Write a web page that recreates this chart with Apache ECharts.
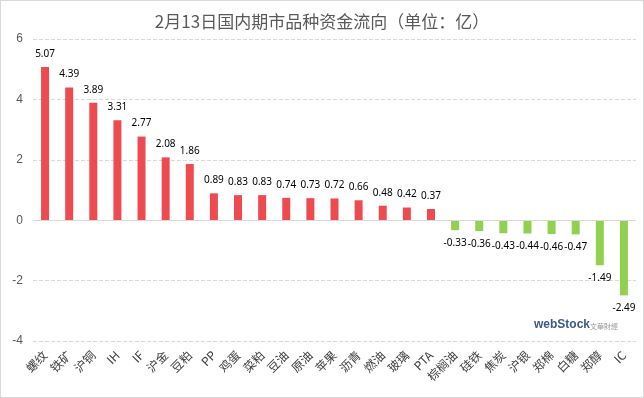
<!DOCTYPE html>
<html>
<head>
<meta charset="utf-8">
<script src="https://cdn.jsdelivr.net/npm/echarts@6/dist/echarts.min.js"></script>
<style>
  html, body { margin: 0; padding: 0; background: #fff; }
  #chart { width: 644px; height: 398px; box-sizing: border-box; border: 1px solid #d9d9d9; }
</style>
</head>
<body>
<div id="chart"></div>
<script>
  // 品种
  var categories = ['螺纹', '铁矿', '沪铜', 'IH', 'IF', '沪金', '豆粕', 'PP', '鸡蛋', '菜粕', '豆油', '原油', '苹果',
    '沥青', '燃油', '玻璃', 'PTA', '棕榈油', '硅铁', '焦炭', '沪银', '郑棉', '白糖', '郑醇', 'IC']
  // 资金流向（亿）
  var values = [5.07, 4.39, 3.89, 3.31, 2.77, 2.08, 1.86, 0.89, 0.83, 0.83, 0.74, 0.73, 0.72,
    0.66, 0.48, 0.42, 0.37, -0.33, -0.36, -0.43, -0.44, -0.46, -0.47, -1.49, -2.49]
  var yTicks = [-4, -2, 0, 2, 4, 6]

  var chart = echarts.init(document.getElementById('chart'))
  chart.setOption({
    animation: false,
    title: {
      text: '2月13日国内期市品种资金流向（单位：亿）',
      left: 'center',
      top: 7,
      textStyle: { fontSize: 17, fontWeight: 'normal', color: '#595959', fontFamily: 'Noto Sans CJK SC' }
    },
    grid: { left: 32, right: 7, top: 38, bottom: 56 },
    xAxis: {
      type: 'category',
      data: categories,
      axisLine: { show: false, onZero: false },
      axisTick: { show: false },
      axisLabel: {
        interval: 0,
        rotate: 45,
        margin: 12,
        fontSize: 12,
        color: '#404040',
        fontFamily: 'Noto Sans CJK SC'
      }
    },
    yAxis: {
      type: 'value',
      min: yTicks[0],
      max: yTicks[yTicks.length - 1],
      interval: 2,
      axisLine: { show: false },
      axisTick: { show: false },
      axisLabel: { color: '#595959', fontSize: 12, margin: 10 },
      splitLine: { lineStyle: { color: '#d9d9d9', type: 'dashed' } }
    },
    series: [
      {
        type: 'bar',
        barWidth: 8,
        data: values.map(function (v) {
          return {
            value: v,
            itemStyle: { color: v >= 0 ? '#ee4b50' : '#92d050' },
            label: { position: v >= 0 ? 'top' : 'bottom' }
          }
        }),
        label: {
          show: true,
          distance: 8,
          fontSize: 10,
          color: '#000',
          fontFamily: 'Noto Sans'
        },
        markLine: {
          silent: true,
          symbol: 'none',
          label: { show: false },
          lineStyle: { color: '#d9d9d9', type: 'solid', width: 1 },
          data: [{ yAxis: 0 }]
        }
      }
    ],
    graphic: [
      {
        type: 'text',
        left: 533,
        top: 318,
        style: { text: 'webStock', fontSize: 12, fontWeight: 'bold', fill: '#3d5a8a', fontFamily: 'Liberation Sans' }
      },
      {
        type: 'text',
        left: 589,
        top: 322,
        style: { text: '文華財經', fontSize: 7, fill: '#999', fontFamily: 'Noto Sans CJK TC' }
      }
    ]
  })
</script>
</body>
</html>
